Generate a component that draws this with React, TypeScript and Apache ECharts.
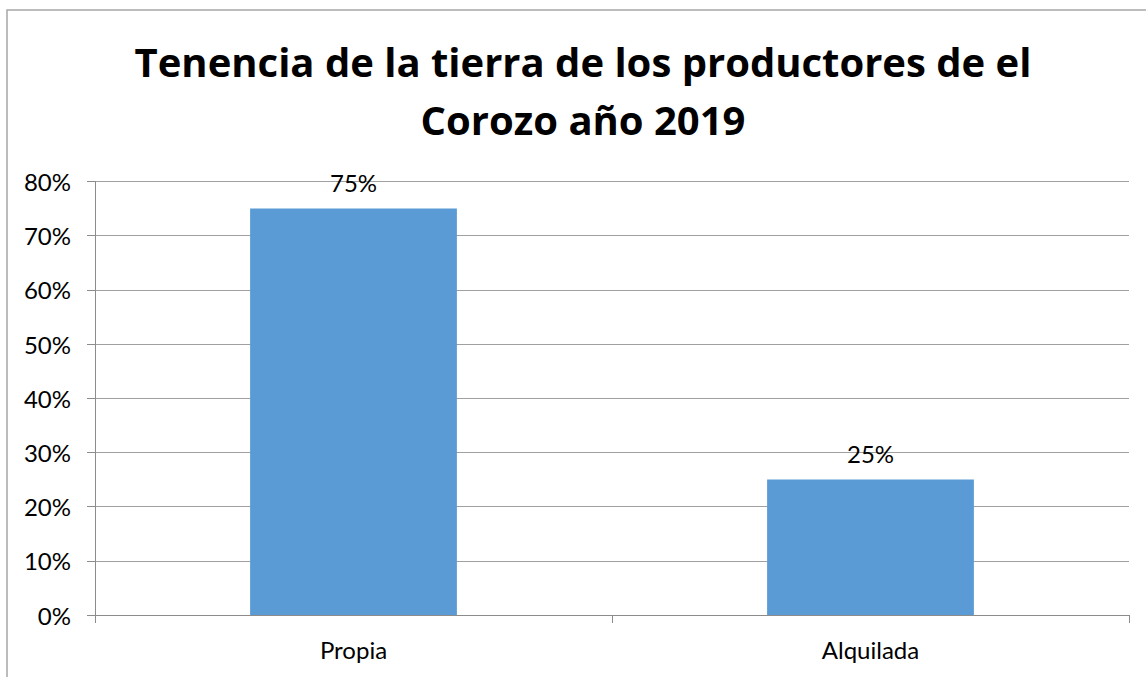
import React, { useEffect, useRef } from "react";
import * as echarts from "echarts";

const titleLines = ["Tenencia de la tierra de los productores de el", "Corozo año 2019"];
const categories = ["Propia", "Alquilada"];
const values = [75, 25];
const yTicks = [0, 10, 20, 30, 40, 50, 60, 70, 80];

export default function App() {
  const ref = useRef<HTMLDivElement>(null);
  useEffect(() => {
    const chart = echarts.init(ref.current!, null, { renderer: "svg" });
    const font = "Lato, 'Open Sans', sans-serif";
    const titleFont = "'Open Sans', sans-serif";
    chart.setOption({
      animation: false,
      backgroundColor: "#ffffff",
      graphic: [
        {
          type: "rect",
          shape: { x: 7, y: 10, width: 1300, height: 900 },
          style: { fill: "none", stroke: "#a6a6a6", lineWidth: 1.5 },
          silent: true,
        },
        ...titleLines.map((t, i) => ({
          type: "text",
          x: 583,
          y: 61 + i * 58.5,
          silent: true,
          style: {
            text: t,
            fill: "#000000",
            font: `bold 40px ${titleFont}`,
            align: "center",
            verticalAlign: "middle",
          },
        })),
      ],
      grid: { left: 95, right: 17, top: 181.5, bottom: 62 },
      xAxis: {
        type: "category",
        data: categories,
        boundaryGap: true,
        axisLine: { show: true, lineStyle: { color: "#8c8c8c", width: 1 } },
        axisTick: { show: true, length: 8, alignWithLabel: false, lineStyle: { color: "#8c8c8c" } },
        axisLabel: { fontFamily: font, fontSize: 24, color: "#000000", margin: 22 },
        splitLine: { show: false },
      },
      yAxis: {
        type: "value",
        min: yTicks[0],
        max: yTicks[yTicks.length - 1],
        interval: 10,
        axisLine: { show: true, lineStyle: { color: "#8c8c8c", width: 1 } },
        axisTick: { show: true, length: 8, lineStyle: { color: "#8c8c8c" } },
        axisLabel: {
          fontFamily: font,
          fontSize: 24,
          color: "#000000",
          margin: 24,
          formatter: (v: number) => `${v}%`,
        },
        splitLine: { show: true, lineStyle: { color: "#a0a0a0", width: 1 } },
      },
      series: [
        {
          type: "bar",
          data: values,
          barWidth: "40%",
          itemStyle: { color: "#5b9bd5" },
          label: {
            show: true,
            position: "top",
            distance: 14,
            fontFamily: font,
            fontSize: 24,
            color: "#000000",
            formatter: (p: any) => `${p.value}%`,
          },
        },
      ],
    });
    return () => chart.dispose();
  }, []);
  return (
    <div
      ref={ref}
      style={{ position: "fixed", left: 0, top: 0, width: 1146, height: 677, background: "#fff" }}
    />
  );
}
